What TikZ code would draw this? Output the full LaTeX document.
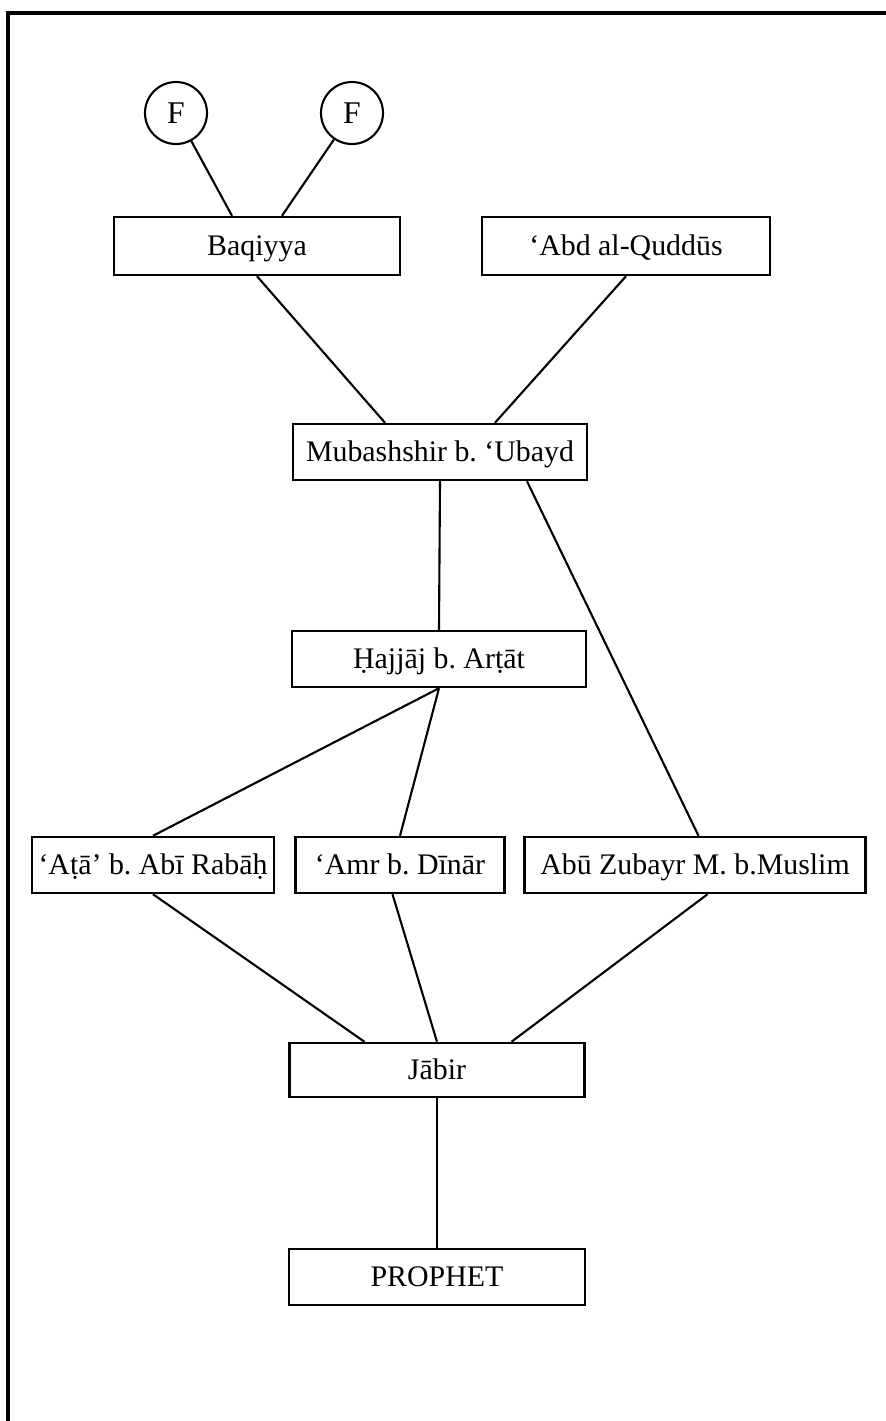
\documentclass[tikz,border=0pt]{standalone}
\usepackage{fontspec}
\setmainfont{Liberation Serif}
\frenchspacing
\begin{document}
\begin{tikzpicture}[x=0.02cm,y=-0.02cm,
        caja/.style={draw,line width=1.4pt,minimum height=1.12cm,inner sep=0pt,text height=11.5pt,text depth=1pt,font=\fontsize{17}{20}\selectfont},
        circulo/.style={draw,circle,line width=1.2pt,minimum size=1.24cm,inner sep=0pt,font=\fontsize{18}{20}\selectfont},
        linea/.style={line width=1.2pt}]
        \useasboundingbox (0,0) rectangle (886,1421);

        % marco
        \draw[line width=2pt] (8,1421) -- (8,13) -- (886,13);

        % fuentes
        \node[circulo] (f1) at (176,113) {F};
        \node[circulo] (f2) at (352,113) {F};
        \node[caja,minimum width=5.72cm,minimum height=1.16cm] (baq) at (257,246) {Baqiyya};
        \node[caja,minimum width=5.76cm,minimum height=1.16cm] (abd) at (626,246) {‘Abd al-Quddūs};

        % cadena
        \node[caja,minimum width=5.88cm] (mub) at (440,452) {Mubashshir b. ‘Ubayd};
        \node[caja,minimum width=5.88cm] (haj) at (439,659) {Ḥajjāj b. Arṭāt};
        \node[caja,minimum width=4.84cm] (ata) at (153,865) {‘Aṭā’ b. Abī Rabāḥ};
        \node[caja,minimum width=4.18cm] (amr) at (400,865) {‘Amr b. Dīnār};
        \node[caja,minimum width=6.82cm] (abu) at (695,865) {Abū Zubayr M. b.Muslim};
        \node[caja,minimum width=5.9cm,minimum height=1.08cm] (jab) at (437,1070) {Jābir};
        \node[caja,minimum width=5.92cm] (pro) at (437,1277) {PROPHET};

        % lineas
        \draw[linea] (f1) -- ([xshift=-0.5cm]baq.north);
        \draw[linea] (f2) -- ([xshift=0.5cm]baq.north);
        \draw[linea] (baq.south) -- ([xshift=-1.1cm]mub.north);
        \draw[linea] (abd.south) -- ([xshift=1.1cm]mub.north);
        \draw[linea] (mub.south) -- (haj.north);
        \draw[linea] ([xshift=1.74cm]mub.south) -- ([xshift=0.07cm]abu.north);
        \draw[linea] (haj.south) -- (ata.north);
        \draw[linea] (haj.south) -- (amr.north);
        \draw[linea] (ata.south) -- ([xshift=-1.45cm]jab.north);
        \draw[linea] ([xshift=-0.15cm]amr.south) -- (jab.north);
        \draw[linea] ([xshift=0.25cm]abu.south) -- ([xshift=1.49cm]jab.north);
        \draw[linea] (jab.south) -- (pro.north);
    \end{tikzpicture}
\end{document}
